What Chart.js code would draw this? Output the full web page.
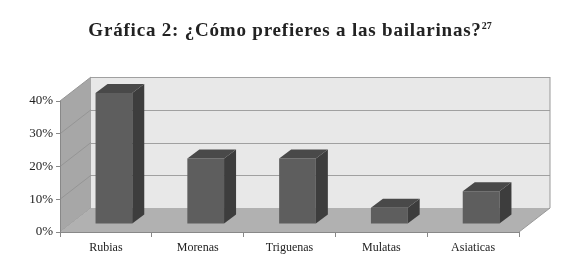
<!DOCTYPE html>
<html>
<head>
<meta charset="utf-8">
<script src="https://cdn.jsdelivr.net/npm/chart.js@4"></script>
<style>
  body { margin: 0; background: #fff; }
  #wrap { position: relative; width: 580px; height: 270px; }
  #title {
    position: absolute; left: 0; top: 19px; width: 580px; text-align: center;
    font-family: "Liberation Serif", "DejaVu Serif", serif; font-weight: bold;
    font-size: 19px; letter-spacing: 0.8px; color: #222;
  }
  #title sup { font-size: 10px; letter-spacing: 0; }
</style>
</head>
<body>
<div id="wrap">
  <canvas id="chart" width="580" height="270"></canvas>
  <div id="title">Gráfica 2: ¿Cómo prefieres a las bailarinas?<sup>27</sup></div>
</div>
<script>
// ===== data =====
const categories = ['Rubias', 'Morenas', 'Triguenas', 'Mulatas', 'Asiaticas'];
const shares = [40, 20, 20, 5, 10];
const yTicks = [0, 10, 20, 30, 40];

// 3D look
const wallDepth = { x: 31, y: -24 };
const barShift = { x: 8, y: -8 };
const barDepth = { x: 12, y: -9 };

const box3d = {
  id: 'box3d',
  beforeDraw(chart) {
    const { ctx, chartArea: a, scales } = chart;
    const dx = wallDepth.x, dy = wallDepth.y;
    ctx.save();
    // back wall
    ctx.fillStyle = '#e8e8e8';
    ctx.fillRect(a.left + dx, a.top + dy, a.right - a.left, a.bottom - a.top);
    // left wall
    ctx.fillStyle = '#a7a7a7';
    ctx.beginPath();
    ctx.moveTo(a.left, a.top);
    ctx.lineTo(a.left + dx, a.top + dy);
    ctx.lineTo(a.left + dx, a.bottom + dy);
    ctx.lineTo(a.left, a.bottom);
    ctx.closePath();
    ctx.fill();
    // grid lines on walls
    ctx.strokeStyle = '#a0a0a0';
    ctx.lineWidth = 1;
    yTicks.forEach(v => {
      const y = Math.round(scales.y.getPixelForValue(v)) + 0.5;
      ctx.beginPath();
      ctx.moveTo(a.left + dx, y + dy);
      ctx.lineTo(a.right + dx, y + dy);
      ctx.stroke();
    });
    ctx.strokeStyle = '#959595';
    yTicks.forEach(v => {
      const y = scales.y.getPixelForValue(v);
      ctx.beginPath();
      ctx.moveTo(a.left, y);
      ctx.lineTo(a.left + dx, y + dy);
      ctx.stroke();
    });
    // floor
    ctx.fillStyle = '#b1b1b1';
    ctx.beginPath();
    ctx.moveTo(a.left, a.bottom);
    ctx.lineTo(a.right, a.bottom);
    ctx.lineTo(a.right + dx, a.bottom + dy);
    ctx.lineTo(a.left + dx, a.bottom + dy);
    ctx.closePath();
    ctx.fill();
    ctx.strokeStyle = '#999';
    ctx.beginPath();
    ctx.moveTo(a.right, a.bottom);
    ctx.lineTo(a.right + dx, a.bottom + dy);
    ctx.lineTo(a.right + dx, a.top + dy);
    ctx.stroke();
    ctx.restore();
  },
  beforeDatasetsDraw(chart) {
    chart.ctx.save();
    chart.ctx.translate(barShift.x, barShift.y);
  },
  afterDatasetsDraw(chart) {
    const ctx = chart.ctx;
    const dx = barDepth.x, dy = barDepth.y;
    chart.getDatasetMeta(0).data.forEach(bar => {
      const l = bar.x - bar.width / 2, r = bar.x + bar.width / 2;
      const t = bar.y, b = bar.base;
      // side face
      ctx.fillStyle = '#3d3d3d';
      ctx.beginPath();
      ctx.moveTo(r, t);
      ctx.lineTo(r + dx, t + dy);
      ctx.lineTo(r + dx, b + dy);
      ctx.lineTo(r, b);
      ctx.closePath();
      ctx.fill();
      // top face
      ctx.fillStyle = '#494949';
      ctx.beginPath();
      ctx.moveTo(l, t);
      ctx.lineTo(l + dx, t + dy);
      ctx.lineTo(r + dx, t + dy);
      ctx.lineTo(r, t);
      ctx.closePath();
      ctx.fill();
    });
    ctx.restore();
  }
};

const ctx = document.getElementById('chart').getContext('2d');
const chart = new Chart(ctx, {
  type: 'bar',
  data: {
    labels: categories,
    datasets: [{
      data: shares,
      backgroundColor: '#5e5e5e',
      borderWidth: 0,
      categoryPercentage: 1,
      barPercentage: 0.4,
      clip: false
    }]
  },
  options: {
    responsive: false,
    animation: false,
    events: [],
    layout: { padding: { left: 0, top: 101, right: 61, bottom: 0 } },
    plugins: { legend: { display: false }, tooltip: { enabled: false }, title: { display: false } },
    scales: {
      x: {
        afterFit: s => { s.height = 38; },
        grid: { offset: true, drawOnChartArea: false, tickLength: 5, color: '#888' },
        border: { color: '#888' },
        ticks: { color: '#222', padding: 4, font: { family: 'Liberation Serif', size: 12 } }
      },
      y: {
        min: 0, max: 40,
        afterFit: s => { s.width = 60; },
        grid: { drawOnChartArea: false, tickLength: 4, color: '#888' },
        border: { color: '#888' },
        ticks: {
          stepSize: 10, padding: 3, color: '#222',
          font: { family: 'Liberation Serif', size: 13 },
          callback: v => v + '%'
        }
      }
    }
  },
  plugins: [box3d]
});
</script>
</body>
</html>
